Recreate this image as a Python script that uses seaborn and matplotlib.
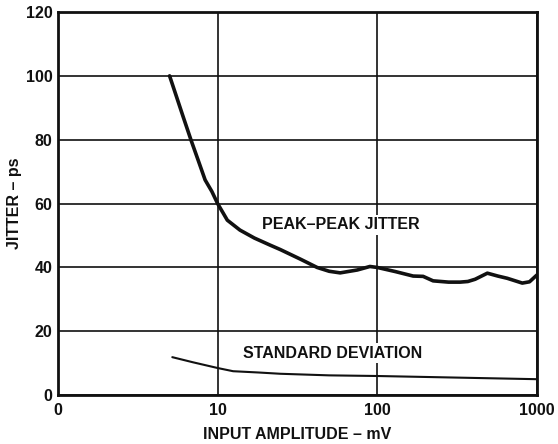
import matplotlib
matplotlib.use("Agg")
import matplotlib.pyplot as plt
import seaborn as sns
import pandas as pd

# Peak-peak jitter curve (input amplitude mV, jitter ps)
pp_x = [5, 6.1, 6.8, 7.55, 8.35, 9.2, 10, 11.5, 13.8, 17, 21.3, 24.7, 33, 42, 50, 58.6, 75, 90, 100, 130, 168, 194, 224, 280, 331, 370, 411, 490, 570, 653, 811, 900, 1000]
pp_y = [100, 87, 80, 73.6, 67.4, 63.8, 60, 54.8, 51.7, 49.2, 47, 45.6, 42.6, 40, 38.8, 38.3, 39.2, 40.3, 40, 38.7, 37.3, 37.2, 35.8, 35.4, 35.4, 35.6, 36.3, 38.2, 37.3, 36.6, 35.1, 35.5, 37.6]

# Standard deviation curve
sd_x = [5.2, 7, 10, 12.5, 18, 24.7, 50, 100, 200, 500, 1000]
sd_y = [11.9, 10.3, 8.5, 7.5, 7.1, 6.7, 6.2, 6.0, 5.7, 5.3, 5.0]

x_ticks = [1, 10, 100, 1000]
x_tick_labels = ["0", "10", "100", "1000"]
y_ticks = [0, 20, 40, 60, 80, 100, 120]

sns.set_theme(style="white")
plt.rcParams['font.family'] = ['Liberation Sans', 'DejaVu Sans']

fig, ax = plt.subplots(figsize=(5.58, 4.44), dpi=100)
fig.subplots_adjust(left=0.104, right=0.962, top=0.973, bottom=0.11)

df_pp = pd.DataFrame({"x": pp_x, "y": pp_y})
df_sd = pd.DataFrame({"x": sd_x, "y": sd_y})
sns.lineplot(data=df_pp, x="x", y="y", ax=ax, color="#111111", linewidth=2.6, zorder=3)
sns.lineplot(data=df_sd, x="x", y="y", ax=ax, color="#111111", linewidth=1.5, zorder=3)

ax.set_xscale("log")
ax.set_xlim(1, 1000)
ax.set_ylim(0, 120)
ax.set_xticks(x_ticks)
ax.set_xticklabels(x_tick_labels)
ax.minorticks_off()
ax.set_yticks(y_ticks)
ax.grid(True, color="#111111", linewidth=1.2)
ax.set_axisbelow(True)
for s in ax.spines.values():
    s.set_color("#111111")
    s.set_linewidth(2.0)
ax.tick_params(axis="both", length=0, labelsize=11.5, colors="#111111")
ax.tick_params(axis="x", pad=6)
ax.tick_params(axis="y", pad=4)
for lab in ax.get_xticklabels() + ax.get_yticklabels():
    lab.set_fontweight("bold")

ax.set_xlabel("INPUT AMPLITUDE – mV", fontsize=11.5, fontweight="bold", color="#111111", labelpad=6)
ax.set_ylabel("JITTER – ps", fontsize=11.5, fontweight="bold", color="#111111", labelpad=3)

ax.text(59.5, 53.3, "PEAK–PEAK JITTER", fontsize=11.5, fontweight="bold", color="#111111",
        ha="center", va="center", zorder=4,
        bbox=dict(facecolor="white", edgecolor="none", pad=2))
ax.text(52.6, 13.2, "STANDARD DEVIATION", fontsize=11.5, fontweight="bold", color="#111111",
        ha="center", va="center", zorder=4,
        bbox=dict(facecolor="white", edgecolor="none", pad=2))

fig.savefig("out.png", dpi=100)
